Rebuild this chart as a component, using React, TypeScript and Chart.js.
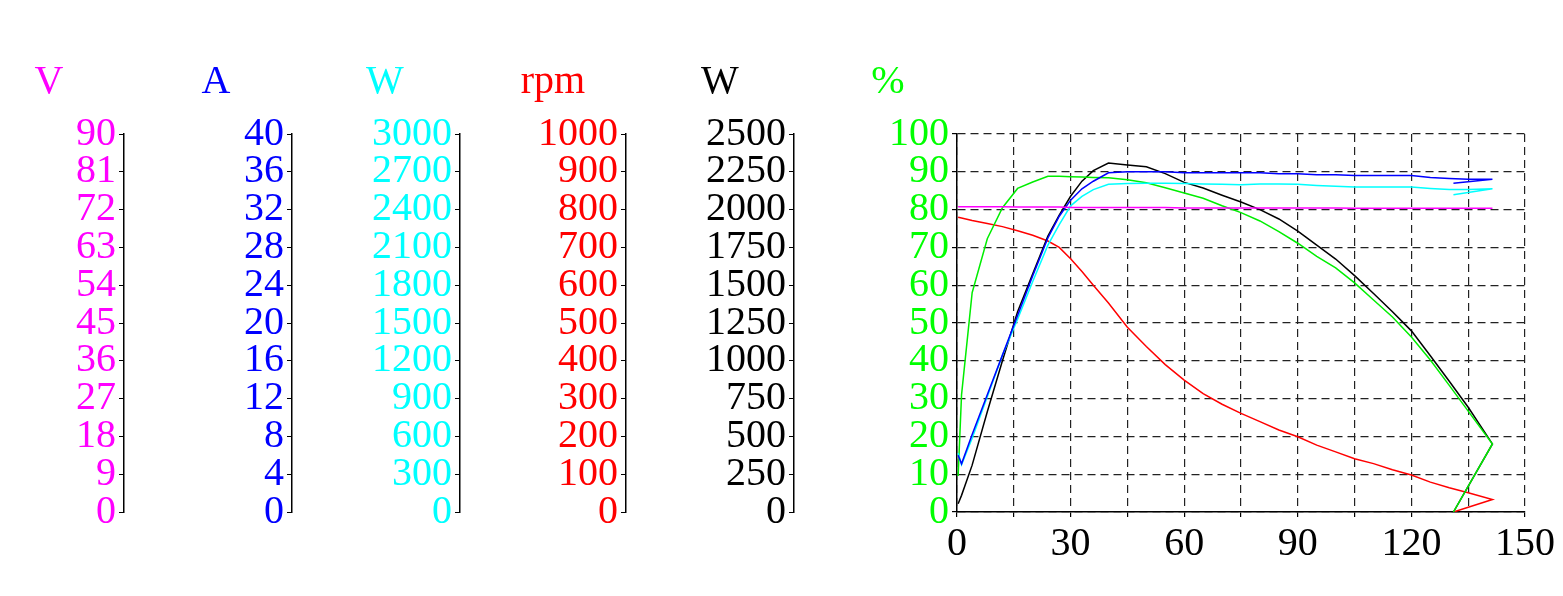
import React, { useEffect, useRef } from 'react';
import { Chart, registerables } from 'chart.js';

Chart.register(...registerables);

const FONT = '"Liberation Serif", "DejaVu Serif", serif';

// Load points (x axis), last point returns to the stall point
const torque = [0.3, 1.2, 4, 8, 12, 16, 20, 24, 27, 30, 33, 36, 40, 45, 50, 55, 60, 65, 70, 75, 80, 85, 90, 95, 100, 105, 110, 115, 120, 125, 130, 135, 141.4, 131.1];

const voltage = [72.7, 72.7, 72.7, 72.7, 72.7, 72.6, 72.6, 72.6, 72.6, 72.5, 72.5, 72.5, 72.5, 72.5, 72.5, 72.5, 72.4, 72.4, 72.4, 72.4, 72.4, 72.4, 72.4, 72.4, 72.4, 72.3, 72.3, 72.3, 72.3, 72.3, 72.3, 72.3, 72.3, 72.3];

const current = [6.0, 5.1, 8.2, 12.4, 16.6, 20.8, 25.0, 29.0, 31.3, 33.0, 34.2, 35.0, 35.9, 36.0, 36.0, 36.0, 35.9, 35.9, 35.9, 35.9, 35.9, 35.8, 35.8, 35.7, 35.7, 35.6, 35.6, 35.6, 35.6, 35.4, 35.3, 35.2, 35.2, 34.8];

const inputPower = [468, 375, 585, 915, 1245, 1530, 1830, 2118, 2280, 2430, 2505, 2559, 2601, 2607, 2610, 2610, 2607, 2604, 2601, 2598, 2604, 2604, 2601, 2592, 2586, 2580, 2580, 2580, 2580, 2568, 2559, 2559, 2565, 2517];

const speed = [780, 778, 771, 763, 755, 744, 732, 717, 700, 670, 636, 600, 553, 489, 438, 390, 349, 313, 285, 261, 239, 217, 199, 177, 159, 141, 128, 112, 98, 79, 64, 51, 33, 0];

const outputPower = [55, 110, 310, 663, 1000, 1325, 1575, 1825, 1963, 2088, 2188, 2258, 2308, 2295, 2283, 2238, 2180, 2143, 2095, 2050, 2000, 1938, 1858, 1765, 1673, 1563, 1445, 1325, 1198, 1033, 865, 693, 450, 0];

const efficiency = [9.5, 31, 58, 72.3, 80.5, 85.6, 87.3, 88.8, 88.8, 88.7, 88.6, 88.5, 88.4, 87.9, 87.1, 85.8, 84.4, 83.0, 81.0, 79.2, 77.0, 74.2, 71.1, 67.6, 64.6, 60.6, 56.1, 51.6, 46.3, 40.2, 33.5, 26.7, 18, 0];

const xTicks = { min: 0, max: 150, step: 15, labelEvery: 30 };

const axes = [
  { id: 'yV', title: 'V', color: '#FF00FF', min: 0, max: 90, step: 9, width: 116, weight: 6, titleOffset: -75 },
  { id: 'yA', title: 'A', color: '#0000FF', min: 0, max: 40, step: 4, width: 168, weight: 5, titleOffset: -76 },
  { id: 'yWin', title: 'W', color: '#00FFFF', min: 0, max: 3000, step: 300, width: 168, weight: 4, titleOffset: -75 },
  { id: 'yRpm', title: 'rpm', color: '#FF0000', min: 0, max: 1000, step: 100, width: 166, weight: 3, titleOffset: -73 },
  { id: 'yWout', title: 'W', color: '#000000', min: 0, max: 2500, step: 250, width: 168, weight: 2, titleOffset: -74 },
  { id: 'yPct', title: '%', color: '#00FF00', min: 0, max: 100, step: 10, width: 163, weight: 1, titleOffset: -69 },
];

const series = [
  { label: 'Voltage', values: voltage, axis: 'yV', color: '#FF00FF' },
  { label: 'Current', values: current, axis: 'yA', color: '#0000FF' },
  { label: 'Input power', values: inputPower, axis: 'yWin', color: '#00FFFF' },
  { label: 'Efficiency', values: efficiency, axis: 'yPct', color: '#00EE00' },
  { label: 'Output power', values: outputPower, axis: 'yWout', color: '#000000' },
  { label: 'Speed', values: speed, axis: 'yRpm', color: '#FF0000' },
];

const titlePlugin = {
  id: 'axisTitles',
  afterDraw(chart: any) {
    const ctx = chart.ctx;
    ctx.save();
    ctx.font = `40px ${FONT}`;
    ctx.textAlign = 'center';
    ctx.textBaseline = 'alphabetic';
    const y = chart.chartArea.top - 41;
    axes.forEach((a) => {
      const s = chart.scales[a.id];
      if (!s) return;
      ctx.fillStyle = a.color;
      ctx.fillText(a.title, s.right + a.titleOffset, y);
    });
    ctx.restore();
  },
};

export default function App() {
  const ref = useRef<HTMLCanvasElement | null>(null);

  useEffect(() => {
    if (!ref.current) return;
    const scales: any = {
      x: {
        type: 'linear',
        min: xTicks.min,
        max: xTicks.max,
        afterFit: (s: any) => { s.height = 76; s.paddingRight = 30; s.paddingLeft = 0; },
        ticks: {
          stepSize: xTicks.step,
          autoSkip: false,
          maxRotation: 0,
          color: '#000',
          padding: 3,
          font: { family: FONT, size: 40 },
          callback: (v: any) => (Number(v) % xTicks.labelEvery === 0 ? String(v) : ''),
        },
        grid: { color: '#222', lineWidth: 1.2, tickColor: '#000', tickLength: 5 },
        border: { display: true, color: '#000', width: 1.5, dash: [8, 5] },
      },
    };
    axes.forEach((a) => {
      const onArea = a.id === 'yPct';
      scales[a.id] = {
        type: 'linear',
        position: 'left',
        min: a.min,
        max: a.max,
        weight: a.weight,
        afterFit: (s: any) => { s.width = a.width; },
        ticks: {
          stepSize: a.step,
          autoSkip: false,
          color: a.color,
          padding: 3,
          font: { family: FONT, size: 40 },
          callback: (v: any) => String(v),
        },
        grid: {
          drawOnChartArea: onArea,
          drawTicks: true,
          tickLength: 5,
          tickColor: '#000',
          color: onArea ? '#222' : '#000',
          lineWidth: onArea ? 1.2 : 1,
        },
        border: { display: true, color: '#000', width: 1.5, dash: onArea ? [8, 5] : [] },
      };
    });

    const chart = new Chart(ref.current, {
      type: 'line',
      data: {
        datasets: series.map((s) => ({
          label: s.label,
          data: torque.map((x, i) => ({ x, y: s.values[i] })),
          yAxisID: s.axis,
          borderColor: s.color,
          backgroundColor: s.color,
          borderWidth: 1.5,
          pointRadius: 0,
          fill: false,
          tension: 0,
        })),
      },
      options: {
        animation: false,
        responsive: true,
        maintainAspectRatio: false,
        layout: { padding: { left: 0, top: 126, right: 0, bottom: 0 } },
        plugins: { legend: { display: false }, tooltip: { enabled: false } },
        scales,
      },
      plugins: [titlePlugin],
    });
    return () => chart.destroy();
  }, []);

  return (
    <div style={{ width: 1547, height: 580, position: 'relative', background: '#fff' }}>
      <canvas ref={ref} />
    </div>
  );
}
